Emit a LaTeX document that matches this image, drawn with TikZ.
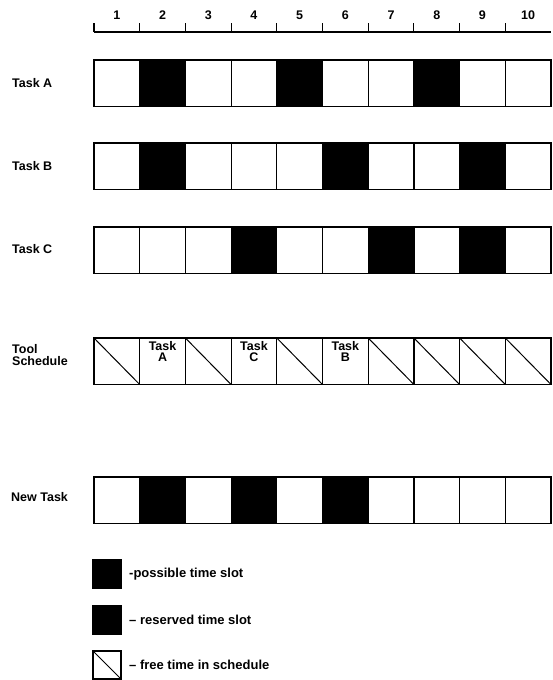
\documentclass[tikz,border=0pt]{standalone}
\usepackage{fontspec}
\setmainfont{Liberation Sans}
\usetikzlibrary{positioning}

\begin{document}
\begin{tikzpicture}[
    x=1pt, y=-1pt,
    font=\fontsize{12.5}{13}\selectfont\bfseries,
    cell/.style={
        draw=black,
        fill=white,
        line width=1.2pt,
        minimum width=45.7pt,
        minimum height=46.5pt,
        inner sep=0pt,
        outer sep=0pt,
        anchor=north west
    },
    reserved/.style={cell, fill=black},
    possible/.style={cell, fill=black},
    freeslot/.style={
        cell,
        path picture={
            \draw[line width=1pt] (path picture bounding box.north west) -- (path picture bounding box.south east);
        }
    },
    keybox/.style={minimum width=28pt, minimum height=28pt},
    rowlabel/.style={anchor=west, align=left, inner sep=0pt, font=\fontsize{12.5}{12.5}\selectfont\bfseries},
    celltext/.style={anchor=north, align=center, inner sep=0pt, font=\fontsize{12.5}{11}\selectfont\bfseries},
    num/.style={inner sep=0pt},
    keytext/.style={anchor=west, inner sep=0pt, font=\fontsize{13}{13}\selectfont\bfseries},
    rule/.style={line width=1.1pt}
]
\useasboundingbox (0,0) rectangle (552,680);

% 1. Time ruler
\draw[rule] (94,32) -- (551,32);
\foreach \i in {1,...,10} {
    \coordinate (r\i) at ({94+45.7*(\i-1)},32);
    \draw[rule] (r\i) -- ++(0,-9);
    \node[num] (n\i) at ({94+45.7*(\i-0.5)},15) {\i};
}

% 2. Task rows
\node[rowlabel] (labA) at (12,83) {Task A};
\foreach \i/\s in {1/cell,2/reserved,3/cell,4/cell,5/reserved,6/cell,7/cell,8/reserved,9/cell,10/cell}
    \node[\s] (a\i) at ({94+45.7*(\i-1)},60) {};

\node[rowlabel] (labB) at (12,166) {Task B};
\foreach \i/\s in {1/cell,2/reserved,3/cell,4/cell,5/cell,6/reserved,7/cell,8/cell,9/reserved,10/cell}
    \node[\s] (b\i) at ({94+45.7*(\i-1)},143) {};

\node[rowlabel] (labC) at (12,249) {Task C};
\foreach \i/\s in {1/cell,2/cell,3/cell,4/reserved,5/cell,6/cell,7/possible,8/cell,9/possible,10/cell}
    \node[\s] (c\i) at ({94+45.7*(\i-1)},227) {};

% 3. Tool schedule
\node[rowlabel] (labT) at (12,355) {Tool\\Schedule};
\foreach \i/\s in {1/freeslot,2/cell,3/freeslot,4/cell,5/freeslot,6/cell,7/freeslot,8/freeslot,9/freeslot,10/freeslot}
    \node[\s] (t\i) at ({94+45.7*(\i-1)},338) {};
\node[celltext, below=3pt of t2.north] (t2txt) {Task\\A};
\node[celltext, below=3pt of t4.north] (t4txt) {Task\\C};
\node[celltext, below=3pt of t6.north] (t6txt) {Task\\B};

% 4. New task
\node[rowlabel] (labN) at (11,497) {New Task};
\foreach \i/\s in {1/cell,2/reserved,3/cell,4/reserved,5/cell,6/reserved,7/cell,8/cell,9/cell,10/cell}
    \node[\s] (new\i) at ({94+45.7*(\i-1)},477) {};

% 5. Legend
\node[possible, keybox] (key1) at (93,560) {};
\node[keytext, right=8pt of key1] (key1txt) {-possible time slot};
\node[reserved, keybox] (key2) at (93,606) {};
\node[keytext, right=8pt of key2] (key2txt) {-- reserved time slot};
\node[freeslot, keybox] (key3) at (93,651) {};
\node[keytext, right=8pt of key3] (key3txt) {-- free time in schedule};

\end{tikzpicture}
\end{document}
